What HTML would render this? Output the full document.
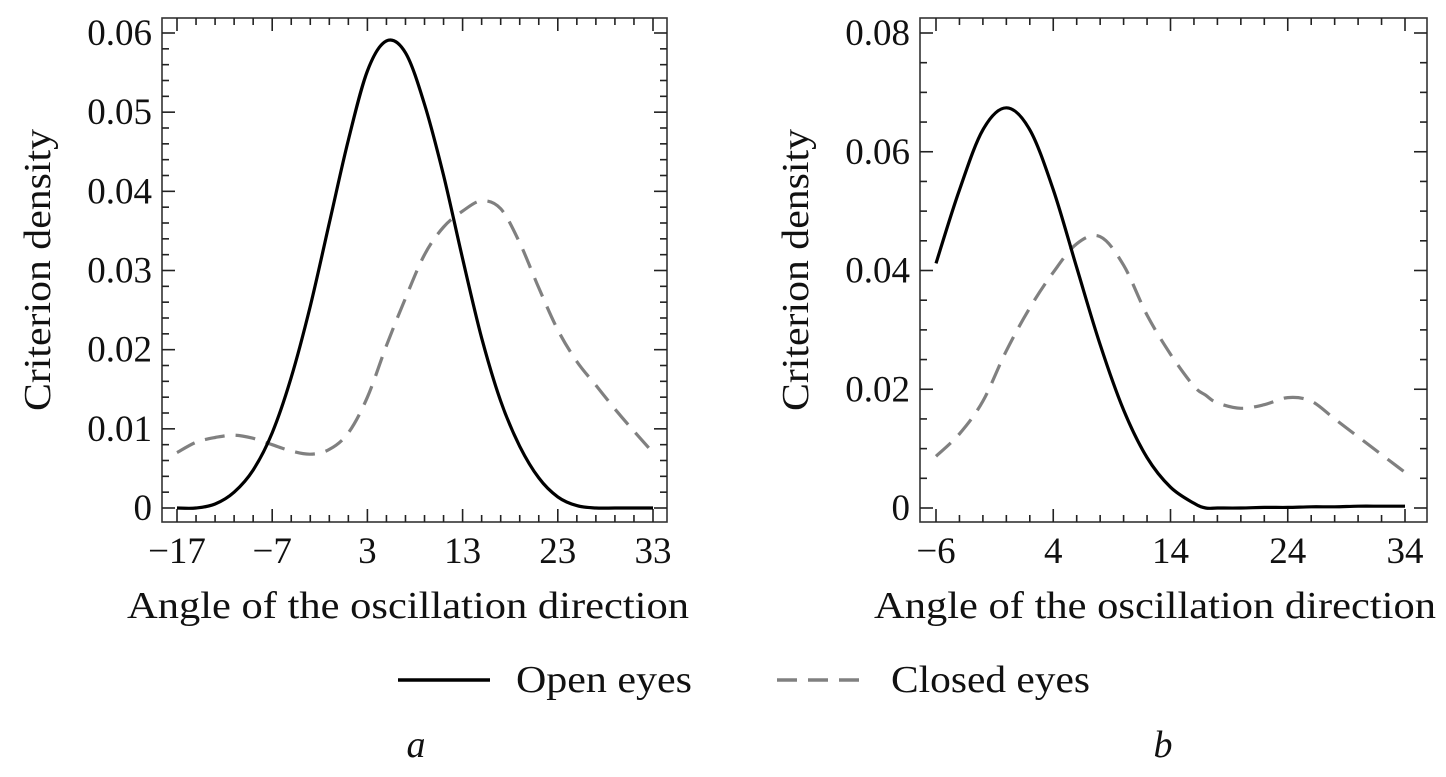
<!DOCTYPE html>
<html><head><meta charset="utf-8"><style>
html,body{margin:0;padding:0;background:#fff}
svg{display:block;font-family:"Liberation Serif",serif}
</style></head><body>
<svg id="fig" width="1446" height="777" viewBox="0 0 1446 777"></svg>
<script>
// Panel a data
const aX = [-17,-15,-13,-11,-9,-7,-5,-3,-1,1,3,5,7,9,11,13,15,17,19,21,23,25,27,29,31,33];
const aOpen = [0,0,0.0005,0.002,0.0048,0.0095,0.0165,0.0255,0.036,0.0465,0.0552,0.059,0.0575,0.051,0.042,0.0315,0.0215,0.0135,0.0078,0.0038,0.0014,0.0003,0,0,0,0];
const aClosed = [0.007,0.0083,0.0089,0.0092,0.0088,0.008,0.0072,0.0068,0.0074,0.0095,0.014,0.0205,0.0265,0.032,0.0355,0.0375,0.0388,0.0378,0.0335,0.0278,0.0225,0.0185,0.0155,0.0125,0.0097,0.007];
const aXTicks = [-17,-7,3,13,23,33];
const aYTicks = [0,0.01,0.02,0.03,0.04,0.05,0.06];
const aYLabels = ["0","0.01","0.02","0.03","0.04","0.05","0.06"];
// Panel b data
const bX = [-6,-4,-2,0,2,4,6,8,10,12,14,16,17,18,20,22,24,26,28,30,32,34];
const bOpen = [0.0412,0.0536,0.0637,0.0674,0.0637,0.0536,0.0405,0.0275,0.0165,0.0085,0.0035,0.0008,0,0,0,0.0001,0.0001,0.0002,0.0002,0.0003,0.0003,0.0003];
const bClosed = [0.0087,0.0125,0.018,0.0265,0.0337,0.0397,0.0445,0.0457,0.0409,0.0325,0.0259,0.0205,0.019,0.0177,0.0168,0.0174,0.0186,0.018,0.015,0.012,0.009,0.006];
const bXTicks = [-6,4,14,24,34];
const bYTicks = [0,0.02,0.04,0.06,0.08];
const bYLabels = ["0","0.02","0.04","0.06","0.08"];

const NS="http://www.w3.org/2000/svg";
const svg=document.getElementById('fig');
function mk(tag,attrs,parent){const e=document.createElementNS(NS,tag);for(const k in attrs)e.setAttribute(k,attrs[k]);(parent||svg).appendChild(e);return e;}
function smooth(p){
  let d='M'+p[0][0].toFixed(1)+','+p[0][1].toFixed(1);
  for(let i=0;i<p.length-1;i++){
    const p0=p[i-1]||p[i],p1=p[i],p2=p[i+1],p3=p[i+2]||p2;
    const c1=[p1[0]+(p2[0]-p0[0])/6,p1[1]+(p2[1]-p0[1])/6];
    const c2=[p2[0]-(p3[0]-p1[0])/6,p2[1]-(p3[1]-p1[1])/6];
    d+=' C'+c1.map(v=>v.toFixed(1)).join(',')+' '+c2.map(v=>v.toFixed(1)).join(',')+' '+p2.map(v=>v.toFixed(1)).join(',');
  }
  return d;
}

function panel(cfg){
  const g=mk('g',{});
  
  
  const sx=v=>cfg.px0+(v-cfg.x0)*(cfg.px1-cfg.px0)/(cfg.x1-cfg.x0);
  const sy=v=>cfg.py0-(v)*(cfg.py0-cfg.py1)/cfg.ymaxTick;
  const f=mk('rect',{x:cfg.L,y:cfg.T,width:cfg.R-cfg.L,height:cfg.B-cfg.T,fill:'none',stroke:'#333','stroke-width':1.6},g);
  
  
  for(let v=cfg.x0;v<=cfg.x1+1e-9;v+=2){
    const major=((v-cfg.x0)%10)===0;const len=major?13:7;const x=sx(v);
    mk('line',{x1:x,x2:x,y1:cfg.B,y2:cfg.B-len,stroke:'#222','stroke-width':1.6},g);
    mk('line',{x1:x,x2:x,y1:cfg.T,y2:cfg.T+len,stroke:'#222','stroke-width':1.6},g);
  }
  cfg.xTicks.forEach(v=>{
    const t=mk('text',{x:sx(v),y:563,'text-anchor':'middle','font-size':37,fill:'#111'},g);
    t.textContent=(v<0?'\u2212'+(-v):String(v));
    
    
  });
  const ymax=cfg.yTicks[cfg.yTicks.length-1];
  for(let i=0;i*cfg.minor<=ymax+1e-9;i++){
    const v=i*cfg.minor;const major=(i%cfg.per)===0;const len=major?13:7;const y=sy(v);
    mk('line',{x1:cfg.L,x2:cfg.L+len,y1:y,y2:y,stroke:'#222','stroke-width':1.6},g);
    mk('line',{x1:cfg.R,x2:cfg.R-len,y1:y,y2:y,stroke:'#222','stroke-width':1.6},g);
  }
  cfg.yTicks.forEach((v,i)=>{
    const t=mk('text',{x:cfg.L-10,y:sy(v)+12,'text-anchor':'end','font-size':37,fill:'#111'},g);
    t.textContent=cfg.yLabels[i];
    
    
  });
  const yl=mk('text',{x:0,y:0,transform:`translate(${cfg.L-112},270) rotate(-90)`,'text-anchor':'middle','font-size':38,fill:'#111',textLength:282,lengthAdjust:'spacingAndGlyphs'},g);
  yl.textContent='Criterion density';
  
  
  const xl=mk('text',{x:cfg.xTitleX,y:618,'text-anchor':'middle','font-size':38,fill:'#111',textLength:562,lengthAdjust:'spacingAndGlyphs'},g);
  xl.textContent='Angle of the oscillation direction';
  
  
  const pts=ys=>cfg.xs.map((x,i)=>[sx(x),sy(ys[i])]);
  const c=mk('path',{d:smooth(pts(cfg.closed)),fill:'none',stroke:'#808080','stroke-width':3.2,'stroke-dasharray':'20 11'},g);
  
  
  const o=mk('path',{d:smooth(pts(cfg.open)),fill:'none',stroke:'#000','stroke-width':3.2},g);
  
  
  const lab=mk('text',{x:cfg.xTitleX+8,y:757,'text-anchor':'middle','font-size':38,'font-style':'italic',fill:'#111'},g);
  lab.textContent=cfg.letter;
  
  
}
panel({name:'panel-a',L:162,R:667,T:18,B:522,x0:-17,x1:33,px0:177,px1:653,py0:508,py1:33,ymaxTick:0.06,
  xs:aX,open:aOpen,closed:aClosed,xTicks:aXTicks,yTicks:aYTicks,yLabels:aYLabels,minor:0.002,per:5,xTitleX:408,letter:'a'});
panel({name:'panel-b',L:920,R:1427,T:18,B:522,x0:-6,x1:34,px0:936,px1:1405,py0:508,py1:33,ymaxTick:0.08,
  xs:bX,open:bOpen,closed:bClosed,xTicks:bXTicks,yTicks:bYTicks,yLabels:bYLabels,minor:0.005,per:4,xTitleX:1155,letter:'b'});

const lg=mk('g',{});


const l1=mk('line',{x1:398,x2:490,y1:680,y2:680,stroke:'#000','stroke-width':3.4},lg);


const t1=mk('text',{x:516,y:692,'font-size':38,fill:'#111',textLength:176,lengthAdjust:'spacingAndGlyphs'},lg);
t1.textContent='Open eyes';


const l2=mk('line',{x1:777,x2:869,y1:680,y2:680,stroke:'#808080','stroke-width':3.4,'stroke-dasharray':'20 11'},lg);


const t2=mk('text',{x:891,y:692,'font-size':38,fill:'#111',textLength:199,lengthAdjust:'spacingAndGlyphs'},lg);
t2.textContent='Closed eyes';


</script>
</body></html>
